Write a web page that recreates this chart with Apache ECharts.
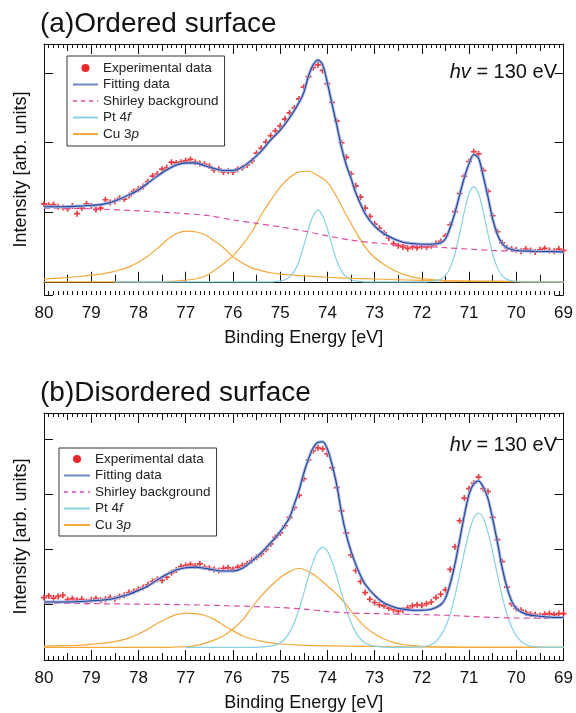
<!DOCTYPE html>
<html>
<head>
<meta charset="utf-8">
<script src="https://cdn.jsdelivr.net/npm/echarts@6/dist/echarts.min.js"></script>
<style>
  html, body { margin: 0; padding: 0; background: #fff; }
  #chart { width: 576px; height: 713px; }
</style>
</head>
<body>
<div id="chart"></div>
<script>
const FONT = '"Liberation Sans", Arial, sans-serif'

// binding energies of the measured points [eV]
const expEnergy = [
  80.0, 79.9, 79.8, 79.7, 79.6, 79.5, 79.4, 79.3, 79.2, 79.1,
  79.0, 78.9, 78.8, 78.7, 78.6, 78.5, 78.4, 78.3, 78.2, 78.1,
  78.0, 77.9, 77.8, 77.7, 77.6, 77.5, 77.4, 77.3, 77.2, 77.1,
  77.0, 76.9, 76.8, 76.7, 76.6, 76.5, 76.4, 76.3, 76.2, 76.1,
  76.0, 75.9, 75.8, 75.7, 75.6, 75.5, 75.4, 75.3, 75.2, 75.1,
  75.0, 74.9, 74.8, 74.7, 74.6, 74.5, 74.4, 74.3, 74.2, 74.1,
  74.0, 73.9, 73.8, 73.7, 73.6, 73.5, 73.4, 73.3, 73.2, 73.1,
  73.0, 72.9, 72.8, 72.7, 72.6, 72.5, 72.4, 72.3, 72.2, 72.1,
  72.0, 71.9, 71.8, 71.7, 71.6, 71.5, 71.4, 71.3, 71.2, 71.1,
  71.0, 70.9, 70.8, 70.7, 70.6, 70.5, 70.4, 70.3, 70.2, 70.1,
  70.0, 69.9, 69.8, 69.7, 69.6, 69.5, 69.4, 69.3, 69.2, 69.1,
  69.0
]

// (a) ordered surface
const expA = [
  1.12, 1.10, 1.11, 1.08, 1.07, 1.05, 1.09, 0.98, 1.06, 1.12,
  1.09, 1.04, 1.06, 1.18, 1.14, 1.16, 1.20, 1.19, 1.24, 1.30,
  1.33, 1.37, 1.44, 1.52, 1.55, 1.62, 1.64, 1.72, 1.71, 1.72,
  1.74, 1.76, 1.72, 1.70, 1.69, 1.66, 1.61, 1.62, 1.58, 1.59,
  1.58, 1.62, 1.64, 1.68, 1.74, 1.85, 1.92, 2.01, 2.10, 2.17,
  2.24, 2.34, 2.43, 2.50, 2.63, 2.80, 2.95, 3.08, 3.12, 3.04,
  2.85, 2.58, 2.31, 2.00, 1.79, 1.55, 1.38, 1.22, 1.06, 0.94,
  0.83, 0.77, 0.70, 0.63, 0.55, 0.52, 0.50, 0.48, 0.50, 0.49,
  0.51, 0.50, 0.52, 0.55, 0.58, 0.66, 0.82, 1.01, 1.27, 1.52,
  1.73, 1.87, 1.84, 1.60, 1.30, 0.95, 0.72, 0.56, 0.49, 0.47,
  0.46, 0.44, 0.47, 0.45, 0.43, 0.46, 0.48, 0.45, 0.44, 0.47,
  0.45
]
const fitA = [
  [80, 1.08], [79.6, 1.08], [79.2, 1.09], [79, 1.10], [78.8, 1.11], [78.6, 1.14],
  [78.4, 1.19], [78.2, 1.25], [78, 1.32], [77.8, 1.42], [77.6, 1.52], [77.4, 1.61],
  [77.2, 1.68], [77, 1.71], [76.8, 1.71], [76.6, 1.67], [76.4, 1.63], [76.2, 1.60],
  [76, 1.60], [75.8, 1.65], [75.6, 1.75], [75.4, 1.88], [75.2, 2.04], [75, 2.18],
  [74.8, 2.36], [74.6, 2.58], [74.5, 2.72], [74.4, 2.96], [74.3, 3.12], [74.2, 3.19],
  [74.1, 3.12], [74, 2.86], [73.9, 2.55], [73.8, 2.25], [73.7, 1.93], [73.6, 1.68],
  [73.5, 1.49], [73.4, 1.28], [73.2, 0.98], [73, 0.80], [72.8, 0.69], [72.6, 0.62],
  [72.4, 0.57], [72.2, 0.55], [72, 0.54], [71.8, 0.54], [71.6, 0.56], [71.5, 0.62],
  [71.4, 0.78], [71.3, 0.99], [71.2, 1.25], [71.1, 1.50], [71, 1.70], [70.9, 1.83],
  [70.8, 1.78], [70.7, 1.52], [70.6, 1.22], [70.5, 0.90], [70.4, 0.68], [70.3, 0.55],
  [70.2, 0.49], [70, 0.45], [69.6, 0.44], [69, 0.43]
]
const shirleyA = [
  [80, 1.06], [79, 1.05], [78, 1.02], [77, 0.98], [76.5, 0.95], [76, 0.89], [75.5, 0.84],
  [75, 0.79], [74.5, 0.73], [74, 0.66], [73.5, 0.60], [73, 0.56], [72.5, 0.53], [72, 0.51],
  [71.5, 0.49], [71, 0.47], [70.5, 0.45], [70, 0.44], [69.5, 0.43], [69, 0.42]
]
const ptA = [
  [78.5, 0], [75.2, 0], [75.1, 0.005], [75, 0.012], [74.9, 0.03], [74.8, 0.07], [74.7, 0.15],
  [74.6, 0.30], [74.5, 0.52], [74.4, 0.76], [74.3, 0.95], [74.2, 1.03], [74.1, 0.95],
  [74, 0.76], [73.9, 0.52], [73.8, 0.30], [73.7, 0.15], [73.6, 0.07], [73.5, 0.03],
  [73.4, 0.012], [73.3, 0.005], [73.2, 0], [71.9, 0], [71.8, 0.006], [71.7, 0.015],
  [71.6, 0.035], [71.5, 0.09], [71.4, 0.20], [71.3, 0.40], [71.2, 0.69], [71.1, 1.01],
  [71, 1.27], [70.9, 1.37], [70.8, 1.27], [70.7, 1.01], [70.6, 0.69], [70.5, 0.40],
  [70.4, 0.20], [70.3, 0.09], [70.2, 0.035], [70.1, 0.015], [70, 0.006], [69.9, 0], [69, 0]
]
const cuA1 = [
  [80, 0.04], [79.6, 0.055], [79.2, 0.08], [78.8, 0.11], [78.6, 0.135], [78.4, 0.17],
  [78.2, 0.215], [78, 0.28], [77.8, 0.37], [77.6, 0.48], [77.4, 0.60], [77.2, 0.69],
  [77, 0.73], [76.8, 0.72], [76.6, 0.68], [76.4, 0.59], [76.2, 0.49], [76, 0.36],
  [75.8, 0.27], [75.6, 0.20], [75.4, 0.16], [75.2, 0.13], [75, 0.11], [74.6, 0.09],
  [74, 0.065], [73.5, 0.05], [73, 0.04], [72, 0.02], [71, 0.01], [69, 0]
]
const cuA2 = [
  [80, 0], [77.6, 0], [77.2, 0.01], [77, 0.025], [76.8, 0.04], [76.6, 0.08], [76.4, 0.16],
  [76.2, 0.26], [76, 0.37], [75.8, 0.53], [75.6, 0.72], [75.4, 0.96], [75.2, 1.17],
  [75, 1.36], [74.8, 1.50], [74.6, 1.58], [74.4, 1.59], [74.2, 1.53], [74, 1.43],
  [73.8, 1.22], [73.6, 0.96], [73.4, 0.72], [73.2, 0.50], [73, 0.35], [72.8, 0.25],
  [72.6, 0.17], [72.4, 0.11], [72.2, 0.07], [72, 0.045], [71.6, 0.02], [71, 0.005], [69, 0]
]

// (b) disordered surface
const expB = [
  1.13, 1.16, 1.12, 1.15, 1.17, 1.09, 1.11, 1.08, 1.10, 1.06,
  1.09, 1.11, 1.08, 1.10, 1.13, 1.11, 1.15, 1.17, 1.22, 1.24,
  1.28, 1.31, 1.36, 1.42, 1.46, 1.44, 1.50, 1.58, 1.63, 1.69,
  1.71, 1.73, 1.70, 1.74, 1.68, 1.66, 1.64, 1.62, 1.66, 1.67,
  1.64, 1.68, 1.71, 1.74, 1.80, 1.86, 1.92, 2.00, 2.10, 2.22,
  2.30, 2.43, 2.58, 2.76, 2.98, 3.28, 3.62, 3.79, 3.84, 3.82,
  3.73, 3.48, 3.12, 2.70, 2.30, 1.90, 1.62, 1.42, 1.22, 1.10,
  1.04, 1.00, 0.98, 0.94, 0.91, 0.88, 0.90, 0.94, 0.98, 1.00,
  0.99, 1.02, 1.05, 1.13, 1.19, 1.27, 1.64, 2.05, 2.52, 2.93,
  3.10, 3.20, 3.31, 3.10, 3.05, 2.58, 2.18, 1.78, 1.32, 1.02,
  0.93, 0.90, 0.86, 0.83, 0.82, 0.80, 0.83, 0.84, 0.82, 0.84,
  0.84
]
const fitB = [
  [80, 1.05], [79.6, 1.05], [79.2, 1.06], [78.8, 1.08], [78.6, 1.10], [78.4, 1.14],
  [78.2, 1.19], [78, 1.26], [77.8, 1.34], [77.6, 1.45], [77.4, 1.55], [77.2, 1.63],
  [77, 1.67], [76.8, 1.68], [76.6, 1.66], [76.4, 1.63], [76.2, 1.61], [76, 1.61],
  [75.8, 1.66], [75.6, 1.79], [75.4, 1.94], [75.2, 2.12], [75, 2.32], [74.8, 2.58],
  [74.7, 2.82], [74.6, 3.07], [74.5, 3.38], [74.4, 3.64], [74.3, 3.84], [74.2, 3.94],
  [74.1, 3.95], [74, 3.82], [73.9, 3.53], [73.8, 3.16], [73.7, 2.66], [73.6, 2.27],
  [73.5, 1.97], [73.4, 1.73], [73.3, 1.53], [73.2, 1.37], [73, 1.17], [72.8, 1.03],
  [72.6, 0.96], [72.4, 0.92], [72.2, 0.90], [72, 0.90], [71.8, 0.92], [71.6, 1.00],
  [71.5, 1.12], [71.4, 1.38], [71.3, 1.73], [71.2, 2.17], [71.1, 2.62], [71, 3.00],
  [70.9, 3.19], [70.8, 3.24], [70.7, 3.13], [70.6, 2.92], [70.5, 2.55], [70.4, 2.13],
  [70.3, 1.67], [70.2, 1.32], [70.1, 1.07], [70, 0.93], [69.8, 0.83], [69.6, 0.80],
  [69.2, 0.77], [69, 0.77]
]
const shirleyB = [
  [80, 1.03], [79, 1.02], [78, 1.01], [77, 1.00], [76, 0.98], [75, 0.95], [74.5, 0.92],
  [74, 0.88], [73.5, 0.85], [73, 0.84], [72, 0.82], [71.5, 0.81], [71, 0.79], [70.5, 0.77],
  [70, 0.76], [69, 0.75]
]
const ptB = [
  [77, 0.23], [75.5, 0.23], [75.3, 0.24], [75.2, 0.25], [75.1, 0.27], [75, 0.31], [74.9, 0.38],
  [74.8, 0.50], [74.7, 0.68], [74.6, 0.92], [74.5, 1.21], [74.4, 1.51], [74.3, 1.78],
  [74.2, 1.97], [74.1, 2.04], [74, 1.97], [73.9, 1.78], [73.8, 1.51], [73.7, 1.21],
  [73.6, 0.92], [73.5, 0.68], [73.4, 0.50], [73.3, 0.38], [73.2, 0.31], [73.1, 0.27],
  [73, 0.25], [72.9, 0.24], [72.7, 0.23], [72.2, 0.23], [72, 0.24], [71.9, 0.25],
  [71.8, 0.28], [71.7, 0.34], [71.6, 0.44], [71.5, 0.60], [71.4, 0.83], [71.3, 1.16],
  [71.2, 1.54], [71.1, 1.95], [71, 2.31], [70.9, 2.57], [70.8, 2.66], [70.7, 2.57],
  [70.6, 2.31], [70.5, 1.95], [70.4, 1.54], [70.3, 1.16], [70.2, 0.83], [70.1, 0.60],
  [70, 0.44], [69.9, 0.34], [69.8, 0.28], [69.7, 0.25], [69.6, 0.24], [69.4, 0.23], [69, 0.23]
]
const cuB1 = [
  [80, 0.25], [79.6, 0.26], [79.2, 0.27], [78.8, 0.30], [78.6, 0.32], [78.4, 0.35],
  [78.2, 0.40], [78, 0.47], [77.8, 0.56], [77.6, 0.66], [77.4, 0.75], [77.2, 0.82],
  [77, 0.85], [76.8, 0.84], [76.6, 0.81], [76.4, 0.74], [76.2, 0.63], [76, 0.53],
  [75.8, 0.44], [75.6, 0.38], [75.4, 0.34], [75.2, 0.31], [75, 0.29], [74.6, 0.27],
  [74.2, 0.26], [73.6, 0.25], [73, 0.245], [72, 0.235], [71, 0.23], [69, 0.23]
]
const cuB2 = [
  [80, 0.23], [77.4, 0.23], [77.2, 0.235], [77, 0.24], [76.8, 0.26], [76.6, 0.30],
  [76.4, 0.36], [76.2, 0.44], [76, 0.56], [75.8, 0.72], [75.6, 0.95], [75.4, 1.16],
  [75.2, 1.34], [75, 1.49], [74.8, 1.60], [74.6, 1.66], [74.4, 1.60], [74.2, 1.49],
  [74, 1.34], [73.8, 1.19], [73.6, 1.00], [73.4, 0.78], [73.2, 0.60], [73, 0.47],
  [72.8, 0.38], [72.6, 0.32], [72.4, 0.28], [72.2, 0.26], [72, 0.245], [71.6, 0.235],
  [71, 0.23], [69, 0.23]
]

const C_EXP = '#f0262a'
const C_FIT = '#23439c'
const C_HALO = '#a5b6e2'
const C_SHIRLEY = '#de4fa6'
const C_PT = '#86d2e2'
const C_CU = '#f6a838'

const chart = echarts.init(document.getElementById('chart'))

// each panel has 6 x axes: bottom/top × 1 eV, 0.5 eV and 0.1 eV ticks
const X_PER_GRID = 6

function xAxes(gridIndex) {
  const base = {
    gridIndex, type: 'value', min: 69, max: 80, inverse: true,
    splitLine: { show: false }, axisLabel: { show: false }
  }
  const ticks = (position, interval, length, withLine) => Object.assign({}, base, {
    position, interval,
    axisLine: { show: withLine, lineStyle: { color: '#111', width: 1 } },
    axisTick: { show: true, inside: true, length, lineStyle: { color: '#111' } }
  })
  const main = ticks('bottom', 1, 10, true)
  main.axisLabel = { show: true, margin: 10, fontSize: 17, color: '#111', fontFamily: FONT }
  main.name = 'Binding Energy [eV]'
  main.nameLocation = 'middle'
  main.nameGap = 34
  main.nameTextStyle = { fontSize: 18, color: '#111', fontFamily: FONT }
  return [
    main,
    ticks('bottom', 0.5, 7, false),
    ticks('bottom', 0.1, 4, false),
    ticks('top', 1, 10, true),
    ticks('top', 0.5, 7, false),
    ticks('top', 0.1, 4, false)
  ]
}

function yAxes(gridIndex, range) {
  const base = Object.assign({
    gridIndex, type: 'value',
    splitLine: { show: false },
    axisLine: { show: true, lineStyle: { color: '#111', width: 1 } },
    axisTick: { show: true, inside: true, length: 9, lineStyle: { color: '#111' } },
    axisLabel: { show: false }
  }, range)
  return [
    Object.assign({}, base, {
      position: 'left',
      name: 'Intensity [arb. units]', nameLocation: 'middle', nameGap: 14,
      nameTextStyle: { fontSize: 18, color: '#111', fontFamily: FONT }
    }),
    Object.assign({}, base, { position: 'right' })
  ]
}

function panelSeries(gi, exp, fit, shirley, pt, cu1, cu2) {
  const xi = gi * X_PER_GRID
  const yi = gi * 2
  const line = (name, data, color, extra) => Object.assign({
    name, type: 'line', xAxisIndex: xi, yAxisIndex: yi, data,
    symbol: 'none', showSymbol: false, smooth: 0.3, silent: true, animation: false,
    lineStyle: { color, width: 1.2 }, itemStyle: { color }
  }, extra || {})
  return [
    line('Cu 3p', cu1, C_CU),
    line('Cu 3p', cu2, C_CU),
    line('Pt 4f', pt, C_PT),
    line('Shirley background', shirley, C_SHIRLEY, {
      lineStyle: { color: C_SHIRLEY, width: 1.2, type: [6, 4] }
    }),
    line('fit halo', fit, C_HALO, { lineStyle: { color: C_HALO, width: 3 } }),
    line('Fitting data', fit, C_FIT, { lineStyle: { color: C_FIT, width: 1.1 } }),
    {
      name: 'Experimental data', type: 'scatter', xAxisIndex: xi, yAxisIndex: yi,
      data: expEnergy.map((e, i) => [e, exp[i]]),
      symbol: 'path://M3.6,0H6.4V3.6H10V6.4H6.4V10H3.6V6.4H0V3.6H3.6Z', symbolSize: 6,
      itemStyle: { color: C_EXP, opacity: 0.9 }, silent: true, animation: false
    }
  ]
}

function legend(left, top, padding, itemWidth, itemTextGap) {
  return {
    orient: 'vertical', left, top, padding,
    selectedMode: false,
    borderColor: '#333', borderWidth: 1, borderRadius: 0,
    itemWidth, itemHeight: 8, itemGap: 0.5, itemTextGap,
    itemStyle: { opacity: 0 },
    data: [
      { name: 'Experimental data', icon: 'circle', itemStyle: { opacity: 1, color: C_EXP } },
      { name: 'Fitting data', lineStyle: { color: '#6f87c8', width: 2 } },
      { name: 'Shirley background', lineStyle: { color: C_SHIRLEY, width: 1.5, type: [4, 4] } },
      { name: 'Pt 4f', lineStyle: { color: C_PT, width: 2 } },
      { name: 'Cu 3p', lineStyle: { color: C_CU, width: 2 } }
    ],
    formatter: name => {
      if (name === 'Pt 4f') return 'Pt 4{it|f}'
      if (name === 'Cu 3p') return 'Cu 3{it|p}'
      return name
    },
    textStyle: {
      fontSize: 13.5, fontFamily: FONT, color: '#222', lineHeight: 16,
      rich: { it: { fontStyle: 'italic', fontSize: 13.5, fontFamily: FONT, color: '#222', lineHeight: 16 } }
    }
  }
}

function hvText(y) {
  return {
    type: 'text', x: 557, y,
    style: {
      text: '{i|hv} = 130 eV', align: 'right', verticalAlign: 'middle',
      fontSize: 20, fontFamily: FONT, fill: '#111',
      rich: { i: { fontStyle: 'italic', fontSize: 20, fontFamily: FONT, fill: '#111' } }
    }
  }
}

chart.setOption({
  backgroundColor: '#fff',
  animation: false,
  title: [
    { text: '(a)Ordered surface', left: 35, top: 5,
      textStyle: { fontSize: 28, fontWeight: 'normal', color: '#111', fontFamily: FONT } },
    { text: '(b)Disordered surface', left: 35, top: 374,
      textStyle: { fontSize: 28, fontWeight: 'normal', color: '#111', fontFamily: FONT } }
  ],
  grid: [
    { left: 44, right: 10, top: 44, height: 251 },
    { left: 44, right: 10, top: 413, height: 251 }
  ],
  xAxis: xAxes(0).concat(xAxes(1)),
  yAxis: yAxes(0, { min: -0.19, max: 3.42, splitNumber: 4 })
    .concat(yAxes(1, { min: 0, max: 4.47, interval: 1 })),
  legend: [
    legend(67, 56, [4, 6, 4, 5], 25, 5),
    legend(59, 448, [3, 6, 3, 4], 26, 6)
  ],
  graphic: [hvText(72), hvText(445)],
  series: panelSeries(0, expA, fitA, shirleyA, ptA, cuA1, cuA2)
    .concat(panelSeries(1, expB, fitB, shirleyB, ptB, cuB1, cuB2))
})
</script>
</body>
</html>
